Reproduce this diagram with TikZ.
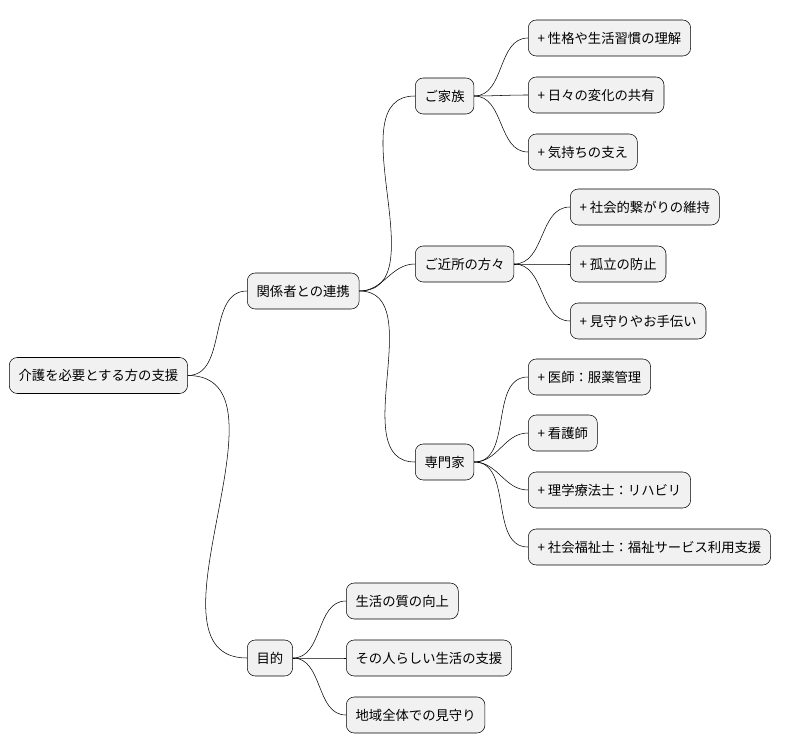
\documentclass[tikz,border=0pt]{standalone}
\usepackage{fontspec}
\setmainfont{Noto Sans CJK JP}
\usetikzlibrary{positioning}
\definecolor{boxgray}{HTML}{F1F1F1}
\tikzset{
    topic/.style={rectangle, draw, thin, rounded corners=6pt, fill=boxgray, anchor=west,
        minimum height=27pt, inner xsep=7pt, font=\fontsize{10pt}{12pt}\selectfont},
    link/.style={thin, out=0, in=180}
}
\begin{document}
\begin{tikzpicture}[x=0.75pt, y=-0.75pt]
            \useasboundingbox (0,0) rectangle (799,752);
            % levels
            \node[topic] (root) at (9,375.5) {介護を必要とする方の支援};
            \node[topic] (kankei) at (247,291) {関係者との連携};
            \node[topic] (mokuteki) at (247,658) {目的};
            \node[topic] (kazoku) at (415,96) {ご家族};
            \node[topic] (kinjo) at (415,264) {ご近所の方々};
            \node[topic] (senmon) at (415,462) {専門家};

            % leaves
            \node[topic] (kz1) at (528,38) {+ 性格や生活習慣の理解};
            \node[topic] (kz2) at (528,95) {+ 日々の変化の共有};
            \node[topic] (kz3) at (528,152) {+ 気持ちの支え};
            \node[topic] (kj1) at (570,207) {+ 社会的繋がりの維持};
            \node[topic] (kj2) at (570,264) {+ 孤立の防止};
            \node[topic] (kj3) at (570,321) {+ 見守りやお手伝い};
            \node[topic] (sm1) at (528,377) {+ 医師：服薬管理};
            \node[topic] (sm2) at (528,433) {+ 看護師};
            \node[topic] (sm3) at (528,490) {+ 理学療法士：リハビリ};
            \node[topic] (sm4) at (528,547) {+ 社会福祉士：福祉サービス利用支援};
            \node[topic] (mk1) at (346,601) {生活の質の向上};
            \node[topic] (mk2) at (346,658) {その人らしい生活の支援};
            \node[topic] (mk3) at (346,715) {地域全体での見守り};

            \foreach \p/\c in {root/kankei, root/mokuteki, kankei/kazoku, kankei/kinjo, kankei/senmon,
                kazoku/kz1, kazoku/kz2, kazoku/kz3, kinjo/kj1, kinjo/kj2, kinjo/kj3,
                senmon/sm1, senmon/sm2, senmon/sm3, senmon/sm4, mokuteki/mk1, mokuteki/mk2, mokuteki/mk3}
                \draw[link] (\p.east) to (\c.west);
        \end{tikzpicture}
\end{document}
